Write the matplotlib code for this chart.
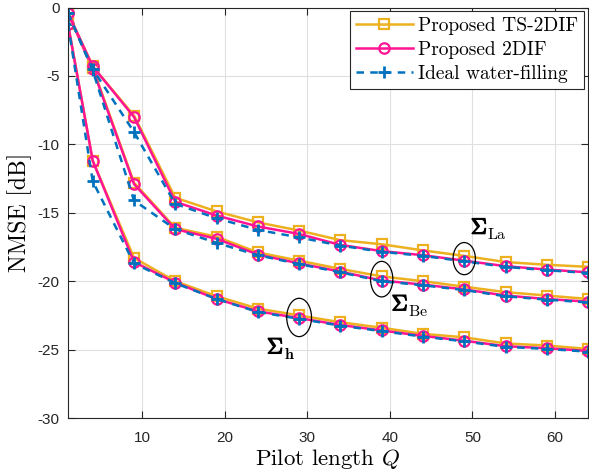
import matplotlib
matplotlib.use("Agg")
import matplotlib.pyplot as plt
import matplotlib.patheffects as pe
from matplotlib.patches import Ellipse

plt.rcParams["axes.unicode_minus"] = False
plt.rcParams["mathtext.fontset"] = "cm"

# ── Data: NMSE [dB] vs. pilot length Q ───────────────────────────────────────
Q = [1, 4, 9, 14, 19, 24, 29, 34, 39, 44, 49, 54, 59, 64]

h_ts    = [-1.2, -11.2, -18.3, -20.0, -21.1, -22.0, -22.5, -23.0, -23.4, -23.85, -24.1, -24.55, -24.7, -24.95]
h_2dif  = [-1.2, -11.2, -18.6, -20.1, -21.3, -22.2, -22.7, -23.2, -23.6, -24.0, -24.35, -24.75, -24.9, -25.1]
h_ideal = [-1.2, -12.7, -18.7, -20.15, -21.3, -22.25, -22.75, -23.25, -23.65, -24.05, -24.4, -24.8, -24.95, -25.15]

be_ts    = [-0.4, -4.4, -12.8, -16.1, -16.75, -17.9, -18.5, -19.1, -19.65, -20.0, -20.4, -20.8, -21.05, -21.3]
be_2dif  = [-0.4, -4.5, -12.9, -16.2, -16.9, -18.05, -18.7, -19.3, -19.95, -20.25, -20.6, -21.05, -21.3, -21.5]
be_ideal = [-0.4, -4.6, -14.1, -16.2, -17.2, -18.1, -18.75, -19.35, -20.0, -20.3, -20.65, -21.1, -21.35, -21.55]

la_ts    = [-0.4, -4.3, -7.9, -13.9, -14.9, -15.7, -16.3, -17.0, -17.3, -17.75, -18.15, -18.6, -18.8, -18.95]
la_2dif  = [-0.4, -4.3, -8.0, -14.2, -15.2, -16.0, -16.55, -17.35, -17.8, -18.1, -18.5, -18.9, -19.15, -19.35]
la_ideal = [-0.4, -4.5, -9.1, -14.35, -15.4, -16.25, -16.8, -17.4, -17.85, -18.15, -18.55, -18.95, -19.2, -19.4]

x_ticks = [10, 20, 30, 40, 50, 60]
y_ticks = [0, -5, -10, -15, -20, -25, -30]

ORANGE = "#EDB120"
PINK   = "#FF1493"
BLUE   = "#0072BD"
SERIF  = "cmr10"

# ── Figure ───────────────────────────────────────────────────────────────────
fig = plt.figure(figsize=(5.89, 4.74), dpi=100)
ax = fig.add_axes([0.1154, 0.1181, 0.8830, 0.8660])

groups = [(h_ts, h_2dif, h_ideal), (be_ts, be_2dif, be_ideal), (la_ts, la_2dif, la_ideal)]
for i, (ts, dif, ideal) in enumerate(groups):
    ax.plot(Q, ts, color=ORANGE, lw=1.8, marker="s", ms=7.5, mfc="none", mew=1.6,
            label="Proposed TS-2DIF" if i == 0 else None)
    ax.plot(Q, dif, color=PINK, lw=1.8, marker="o", ms=7.5, mfc="none", mew=1.6,
            label="Proposed 2DIF" if i == 0 else None)
    ax.plot(Q, ideal, color=BLUE, lw=1.8, ls=(0, (3, 2.5)), marker="+", ms=8, mew=2,
            label="Ideal water-filling" if i == 0 else None)

# ellipses marking each covariance group
for xc, yc, w, h in [(29, -22.65, 3.0, 2.8), (39, -19.85, 2.7, 2.6), (49, -18.35, 2.7, 2.35)]:
    ax.add_patch(Ellipse((xc, yc), w, h, fill=False, ec="black", lw=0.9, zorder=5))

# bold Sigma with a separate subscript
bold = [pe.withStroke(linewidth=0.9, foreground="black")]
for x, y, sub in [(25.1, -24.85, r"$\mathbf{h}$"),
                  (40.2, -21.7, r"$\mathrm{Be}$"),
                  (49.8, -16.1, r"$\mathrm{La}$")]:
    ax.text(x, y, r"$\mathbf{\Sigma}$", fontsize=16, va="center", ha="left", path_effects=bold)
    ax.annotate(sub, (x, y), xytext=(12, -5), textcoords="offset points",
                fontsize=11.5, va="center", ha="left")

ax.set_xlim(1, 64)
ax.set_ylim(-30, 0)
ax.set_xticks(x_ticks)
ax.set_yticks(y_ticks)
ax.set_xticklabels([str(t) for t in x_ticks], fontfamily="Liberation Sans", fontsize=11)
ax.set_yticklabels([str(t) for t in y_ticks], fontfamily="Liberation Sans", fontsize=11)
ax.tick_params(direction="in", top=True, right=True, length=5, width=0.8, colors="#262626")
ax.tick_params(axis="x", pad=9)
ax.tick_params(axis="y", pad=6)
ax.grid(True, color="#DFDFDF", lw=0.8)
ax.set_axisbelow(True)
for sp in ax.spines.values():
    sp.set_color("#262626")
    sp.set_linewidth(0.8)

ax.set_xlabel(r"Pilot length $Q$", fontfamily=SERIF, fontsize=16.5, labelpad=2)
ax.set_ylabel("NMSE [dB]", fontfamily=SERIF, fontsize=17, labelpad=4)

leg = ax.legend(loc="upper right", prop={"family": SERIF, "size": 14},
                handlelength=2.9, fancybox=False, framealpha=1,
                edgecolor="#262626", borderpad=0.3, labelspacing=0.3,
                handletextpad=0.3, borderaxespad=0.2)
leg.get_frame().set_linewidth(0.8)

fig.savefig("out.png", dpi=100)
